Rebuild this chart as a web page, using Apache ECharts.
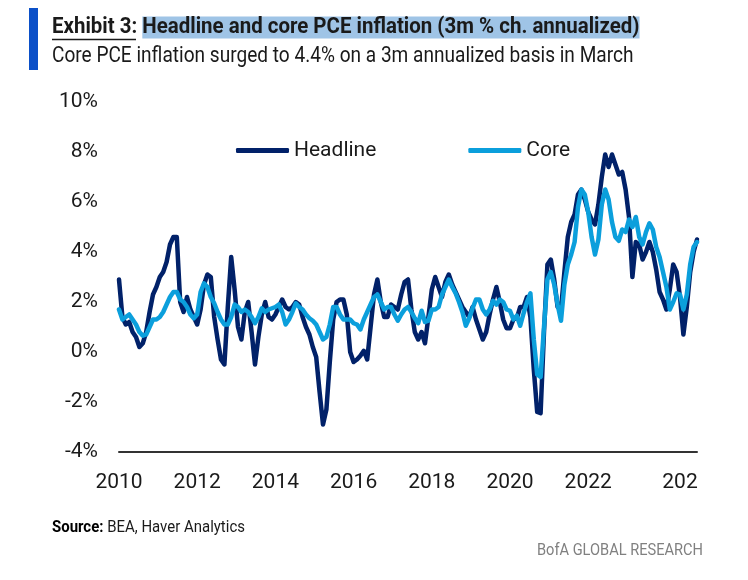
<!DOCTYPE html>
<html><head><meta charset="utf-8">
<script src="https://cdn.jsdelivr.net/npm/echarts@6/dist/echarts.min.js"></script>
<style>html,body{margin:0;padding:0;background:#fff}#c{width:748px;height:580px}</style>
</head><body><div id="c"></div>
<script>
// ---- data ----
const startYear = 2010;
const monthCount = 171; // Jan 2010 .. Mar 2024
const months = [];
for (let k = 0; k < monthCount; k++) {
  months.push((startYear + Math.floor(k / 12)) + '-' + String(k % 12 + 1).padStart(2, '0'));
}
const headline = [
  2.9,1.4,1.1,1.2,0.8,0.6,0.2,0.35,0.8,1.6,2.3,2.6,
  3.0,3.2,3.6,4.3,4.6,4.6,2.0,1.6,2.2,1.7,1.4,1.1,
  1.7,2.7,3.1,3.0,1.4,0.5,-0.3,-0.5,1.8,3.8,2.5,1.0,
  0.5,1.6,2.0,0.8,-0.5,0.6,1.5,2.0,1.4,1.3,1.5,1.8,
  2.1,1.8,1.7,1.8,2.0,1.9,1.4,1.0,0.7,0.2,-0.2,-1.6,
  -2.9,-2.3,-0.4,1.3,2.0,2.1,2.1,1.5,0.0,-0.4,-0.3,-0.15,
  0.05,-0.3,1.0,2.3,2.9,2.0,1.4,1.4,1.9,1.8,1.7,2.3,
  2.8,2.9,1.7,0.8,0.5,0.8,0.35,1.4,2.5,3.0,2.6,2.2,
  2.8,3.1,2.7,2.4,2.1,1.8,1.6,1.4,1.8,1.3,0.9,0.5,
  0.8,1.5,2.1,2.6,2.0,1.3,0.95,0.95,1.3,1.35,1.8,1.8,
  2.2,1.4,-0.7,-2.4,-2.45,0.8,3.5,3.7,2.9,1.8,1.7,3.2,
  4.6,5.2,5.5,6.3,6.5,6.1,5.6,5.3,5.1,5.9,7.0,7.9,
  7.4,7.9,7.5,7.1,7.2,6.5,5.4,3.0,4.4,4.3,3.7,4.0,
  4.4,4.0,3.3,2.4,2.1,1.7,2.5,3.5,3.2,2.2,0.7,1.8,
  3.2,4.0,4.5
];
const core = [
  1.7,1.3,1.4,1.5,1.3,1.1,0.8,0.65,0.7,1.0,1.3,1.3,
  1.4,1.6,1.9,2.2,2.4,2.4,2.1,2.0,1.8,1.5,1.35,1.5,
  2.4,2.75,2.6,2.2,1.95,1.6,1.3,1.1,1.1,1.4,1.9,1.8,
  1.6,1.7,1.6,1.4,1.15,1.4,1.75,1.6,1.7,1.75,1.8,1.9,
  1.6,1.1,1.3,1.6,1.95,1.8,1.7,1.5,1.35,1.25,1.1,0.8,
  0.5,0.6,1.1,1.8,1.8,1.5,1.3,1.3,1.3,1.15,1.1,0.9,
  1.3,1.6,1.9,2.2,2.3,2.0,1.7,1.8,1.8,1.5,1.25,1.5,
  1.7,1.8,1.6,1.35,1.15,1.65,1.2,1.25,1.7,1.7,1.8,2.3,
  2.6,2.9,2.6,2.35,2.0,1.6,1.05,1.35,1.75,2.1,2.1,1.7,
  1.5,1.7,2.05,1.9,2.1,2.0,1.7,1.65,1.3,1.45,1.05,1.55,
  2.0,2.35,0.5,-0.9,-1.0,1.0,2.9,3.2,2.7,1.9,1.25,2.7,
  3.5,3.9,4.4,5.8,6.5,6.3,5.6,4.6,3.9,4.5,5.9,6.5,
  6.1,5.2,4.6,4.45,4.9,4.8,5.3,5.0,5.4,4.6,4.3,4.8,
  5.15,4.9,4.2,3.8,3.2,2.6,1.7,2.0,2.35,2.3,1.7,2.3,
  3.5,4.2,4.4
];
const xTickIndex = [0, 23, 46, 69, 92, 115, 138, 165];
const xTickLabels = ['2010', '2012', '2014', '2016', '2018', '2020', '2022', '202'];
const yMin = -4, yMax = 10, yStep = 2;
const seriesNames = ['Headline', 'Core'];
const titleLead = 'Exhibit 3';
const titleRest = 'Headline and core PCE inflation (3m % ch. annualized)';
const subtitle = 'Core PCE inflation surged to 4.4% on a 3m annualized basis in March';
const sourceBold = 'Source:';
const sourceText = ' BEA, Haver Analytics';
const brand = 'BofA GLOBAL RESEARCH';

// ---- chart ----
const FONT = 'Roboto, "Liberation Sans", sans-serif';
const NAVY = '#012169', SKY = '#0b9fdc', TXT = '#1a1a1a';
const chart = echarts.init(document.getElementById('c'), null, {renderer: 'canvas'});
chart.setOption({
  backgroundColor: '#fff',
  animation: false,
  textStyle: {fontFamily: FONT},
  grid: {left: 119, right: 51, top: 102, bottom: 128, containLabel: false},
  legend: {
    data: seriesNames, left: 236, top: 140, padding: 0, icon: 'roundRect',
    itemWidth: 53, itemHeight: 5, itemGap: 92,
    textStyle: {fontSize: 21, color: TXT, fontFamily: FONT}
  },
  xAxis: [{
    type: 'category', data: months, boundaryGap: false,
    axisLine: {show: false}, axisTick: {show: false}, splitLine: {show: false},
    axisLabel: {
      fontSize: 21, color: TXT, margin: 20, fontFamily: FONT,
      interval: (i) => xTickIndex.indexOf(i) >= 0,
      formatter: (v, i) => { const p = xTickIndex.indexOf(i); return p >= 0 ? xTickLabels[p] : ''; }
    }
  }, {
    type: 'category', data: months, boundaryGap: false, position: 'bottom',
    axisLine: {show: true, onZero: true, lineStyle: {color: '#333', width: 2}},
    axisTick: {show: false}, axisLabel: {show: false}, splitLine: {show: false}
  }],
  yAxis: {
    type: 'value', min: yMin, max: yMax, interval: yStep,
    axisLine: {show: false}, axisTick: {show: false}, splitLine: {show: false},
    axisLabel: {fontSize: 21, color: TXT, margin: 21, fontFamily: FONT, formatter: (v) => v + '%'}
  },
  series: [
    {name: seriesNames[0], type: 'line', data: headline, symbol: 'none', z: 3,
     itemStyle: {color: NAVY}, lineStyle: {color: NAVY, width: 4.5, cap: 'round', join: 'round'}},
    {name: seriesNames[1], type: 'line', data: core, symbol: 'none', z: 4,
     itemStyle: {color: SKY}, lineStyle: {color: SKY, width: 4.5, cap: 'round', join: 'round'}}
  ],
  graphic: [
    {type: 'rect', shape: {x: 29, y: 8, width: 9, height: 62}, style: {fill: '#0b50c8'}},
    {type: 'text', x: 52, y: 14, scaleX: 0.93, style: {
      text: '{a|' + titleLead + '}{a|: }{b|' + titleRest + '}',
      rich: {
        a: {fontSize: 22, fontWeight: 'bold', fill: TXT, fontFamily: FONT, lineHeight: 27},
        b: {fontSize: 22, fontWeight: 'bold', fill: TXT, fontFamily: FONT, backgroundColor: '#9fc4e6', lineHeight: 27}
      }
    }},
    {type: 'line', shape: {x1: 52, y1: 39.5, x2: 136, y2: 39.5}, style: {stroke: TXT, lineWidth: 1.5}},
    {type: 'text', x: 52, y: 45, scaleX: 0.867, style: {text: subtitle, fontSize: 22, fill: TXT, fontFamily: FONT}},
    {type: 'text', x: 52, y: 519, scaleX: 0.88, style: {
      text: '{s|' + sourceBold + '}{t|' + sourceText + '}',
      rich: {
        s: {fontSize: 17, fontWeight: 'bold', fill: '#000', fontFamily: FONT},
        t: {fontSize: 17, fill: TXT, fontFamily: FONT}
      }
    }},
    {type: 'text', x: 703, y: 542, scaleX: 0.86, style: {text: brand, fontSize: 17, fill: '#808080', fontFamily: FONT, textAlign: 'right'}}
  ]
});
</script></body></html>
